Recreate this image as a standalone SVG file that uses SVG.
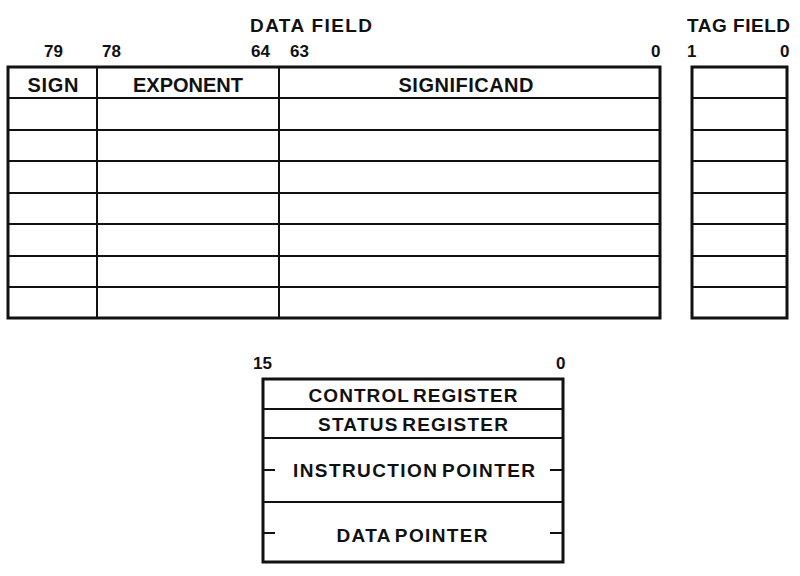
<svg xmlns="http://www.w3.org/2000/svg" width="800" height="576" viewBox="0 0 800 576">
<style>
text{font-family:"Liberation Sans",Arial,sans-serif;font-weight:bold;fill:#111}
.hd{font-size:19px}
.num{font-size:17px}
.col{font-size:20px;text-anchor:middle}
.reg{font-size:19px;text-anchor:middle;word-spacing:-3px}
.outer{fill:none;stroke:#111;stroke-width:3}
.in{stroke:#111;stroke-width:2;fill:none}
</style>
<rect width="800" height="576" fill="#fff"/>
<g id="data-field">
<text class="hd" x="250" y="32" textLength="122">DATA FIELD</text>
<text class="num" x="44" y="57">79</text>
<text class="num" x="102" y="57">78</text>
<text class="num" x="251" y="57">64</text>
<text class="num" x="290" y="57">63</text>
<text class="num" x="651" y="57">0</text>
<rect class="outer" x="8" y="67" width="652" height="251"/>
<path class="in" d="M97 67V318M279 67V318M8 98H660M8 130H660M8 161H660M8 193H660M8 224H660M8 256H660M8 287H660"/>
<text class="col" x="53" y="92" textLength="51">SIGN</text>
<text class="col" x="188" y="92" textLength="110">EXPONENT</text>
<text class="col" x="466" y="92" textLength="135">SIGNIFICAND</text>
</g>
<g id="tag-field">
<text class="hd" x="687" y="32" textLength="103">TAG FIELD</text>
<text class="num" x="687" y="57">1</text>
<text class="num" x="780" y="57">0</text>
<rect class="outer" x="692" y="67" width="95" height="251"/>
<path class="in" d="M692 98H787M692 130H787M692 161H787M692 193H787M692 224H787M692 256H787M692 287H787"/>
</g>
<g id="registers">
<text class="num" x="253" y="369">15</text>
<text class="num" x="556" y="369">0</text>
<rect class="outer" x="263" y="379" width="300" height="183"/>
<path class="in" d="M263 409H563M263 438H563M263 502H563"/>
<text class="reg" x="413" y="402" textLength="209">CONTROL REGISTER</text>
<text class="reg" x="413" y="431" textLength="190">STATUS REGISTER</text>
<text class="reg" x="414" y="477" textLength="242">INSTRUCTION POINTER</text>
<text class="reg" x="412" y="542" textLength="151">DATA POINTER</text>
</g>
<g id="connectors">
<path class="in" d="M263 470H275M550 470H563M263 533H275M550 533H563"/>
</g>
</svg>
